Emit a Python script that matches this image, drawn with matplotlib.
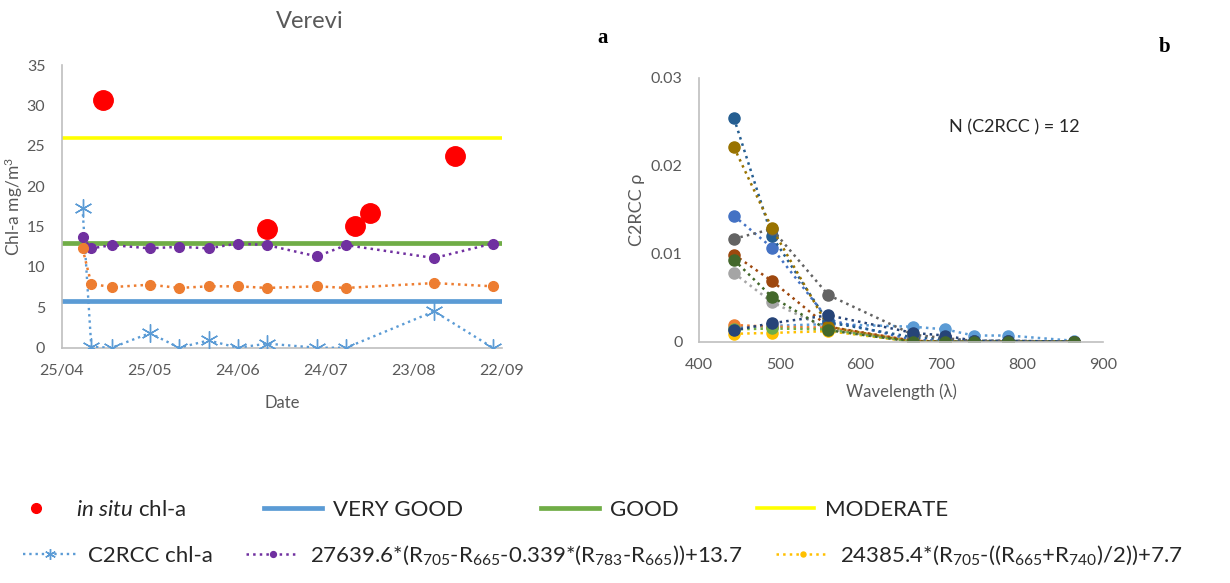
import matplotlib
matplotlib.use('Agg')
import matplotlib.pyplot as plt
import matplotlib.dates as mdates
from matplotlib.lines import Line2D
import pandas as pd

plt.rcParams['font.family'] = ['Lato', 'DejaVu Sans']
plt.rcParams['mathtext.fontset'] = 'custom'
plt.rcParams['mathtext.rm'] = 'Lato'
plt.rcParams['mathtext.it'] = 'Lato:italic'
plt.rcParams['mathtext.default'] = 'regular'

# --- panel a: chl-a time series (Verevi) ---
sat_dates = pd.to_datetime(['2018-05-02', '2018-05-05', '2018-05-12', '2018-05-25',
                            '2018-06-04', '2018-06-14', '2018-06-24', '2018-07-04',
                            '2018-07-21', '2018-07-31', '2018-08-30', '2018-09-19'])
c2rcc_chl = [17.3, 0.1, 0.0, 1.8, 0.0, 0.9, 0.0, 0.5, 0.0, 0.0, 4.5, 0.0]
algo1_chl = [13.7, 12.3, 12.7, 12.3, 12.5, 12.3, 12.9, 12.7, 11.3, 12.7, 11.1, 12.9]
algo2_chl = [12.3, 7.9, 7.5, 7.8, 7.4, 7.6, 7.6, 7.4, 7.6, 7.4, 8.0, 7.6]

insitu_dates = pd.to_datetime(['2018-05-09', '2018-07-04', '2018-08-03', '2018-08-08', '2018-09-06'])
insitu_chl = [30.7, 14.7, 15.1, 16.7, 23.7]

class_names = ['VERY GOOD', 'GOOD', 'MODERATE']
class_limits = [5.8, 13.0, 26.0]
class_colors = ['#5B9BD5', '#70AD47', '#FFFF00']
class_widths = [3.4, 3.4, 2.6]

date_ticks = pd.to_datetime(['2018-04-25', '2018-05-25', '2018-06-24',
                             '2018-07-24', '2018-08-23', '2018-09-22'])

# --- panel b: C2RCC reflectance spectra ---
wavelengths = [443, 490, 560, 665, 705, 740, 783, 865]
rho_0502 = [0.0016, 0.0018, 0.0020, 0.0017, 0.0014, 0.0007, 0.0007, 0.0001]
rho_0505 = [0.0019, 0.0017, 0.0016, 0.0001, 0.0001, 0.0000, 0.0000, 0.0000]
rho_0512 = [0.0078, 0.0045, 0.0014, 0.0000, 0.0000, 0.0000, 0.0000, 0.0000]
rho_0525 = [0.0009, 0.0010, 0.0012, 0.0000, 0.0000, 0.0000, 0.0000, 0.0000]
rho_0604 = [0.0143, 0.0107, 0.0025, 0.0002, 0.0001, 0.0000, 0.0000, 0.0000]
rho_0614 = [0.0014, 0.0015, 0.0014, 0.0000, 0.0000, 0.0000, 0.0000, 0.0000]
rho_0624 = [0.0254, 0.0120, 0.0022, 0.0005, 0.0003, 0.0001, 0.0001, 0.0000]
rho_0704 = [0.0099, 0.0069, 0.0017, 0.0001, 0.0000, 0.0000, 0.0000, 0.0000]
rho_0721 = [0.0117, 0.0128, 0.0053, 0.0008, 0.0004, 0.0001, 0.0001, 0.0000]
rho_0731 = [0.0221, 0.0129, 0.0017, 0.0000, 0.0000, 0.0000, 0.0000, 0.0000]
rho_0830 = [0.0013, 0.0021, 0.0030, 0.0010, 0.0007, 0.0001, 0.0001, 0.0000]
rho_0919 = [0.0093, 0.0051, 0.0013, 0.0000, 0.0000, 0.0000, 0.0000, 0.0000]
spectra = [rho_0502, rho_0505, rho_0512, rho_0525, rho_0604, rho_0614,
           rho_0624, rho_0704, rho_0721, rho_0731, rho_0830, rho_0919]
spec_colors = ['#5B9BD5', '#ED7D31', '#A5A5A5', '#FFC000', '#4472C4', '#70AD47',
               '#255E91', '#9E480E', '#636363', '#997300', '#264478', '#43682B']

grey = '#595959'
spine_c = '#BFBFBF'

fig = plt.figure(figsize=(12.3, 5.83), dpi=100)
ax1 = fig.add_axes([0.0504, 0.4036, 0.3574, 0.4849])
ax2 = fig.add_axes([0.5685, 0.4139, 0.3280, 0.4528])

# panel a
h_insitu, = ax1.plot(insitu_dates, insitu_chl, 'o', color='#FF0000', markersize=14,
                     linestyle='none', label=r'$\it{in\ situ}$ chl-a', zorder=5)
h_cls = []
for name, lim, col, lw in zip(class_names, class_limits, class_colors, class_widths):
    h_cls.append(ax1.axhline(lim, color=col, linewidth=lw, label=name, zorder=1))
h_c2 = ax1.plot(sat_dates, c2rcc_chl, linestyle=':', color='#5B9BD5', linewidth=1.7,
                marker=(6, 2, 0), markersize=13, markeredgewidth=1.0,
                label='C2RCC chl-a', zorder=3)[0]
h_a1 = ax1.plot(sat_dates, algo1_chl, linestyle=':', color='#7030A0', linewidth=1.8,
                marker='o', markersize=7,
                label='27639.6*(R$_{705}$-R$_{665}$-0.339*(R$_{783}$-R$_{665}$))+13.7',
                zorder=4)[0]
ax1.plot(sat_dates, algo2_chl, linestyle=':', color='#ED7D31', linewidth=1.8,
         marker='o', markersize=7, zorder=4)
h_a2 = Line2D([], [], linestyle=':', color='#FFC000', linewidth=1.8, marker='o',
              markersize=6, label='24385.4*(R$_{705}$-((R$_{665}$+R$_{740}$)/2))+7.7')

ax1.set_ylim(0, 35)
ax1.set_yticks(range(0, 36, 5))
ax1.set_xlim(date_ticks[0], date_ticks[-1])
ax1.set_xticks(date_ticks)
ax1.xaxis.set_major_formatter(mdates.DateFormatter('%d/%m'))
ax1.set_xlabel('Date', fontsize=12, color=grey, labelpad=12)
ax1.set_ylabel('Chl-a mg/m$^3$', fontsize=12.5, color=grey)
ax1.yaxis.set_label_coords(-0.085, 0.5)

# panel b
for rho, col in zip(spectra, spec_colors):
    ax2.plot(wavelengths, rho, linestyle=':', color=col, linewidth=1.8,
             marker='o', markersize=8)
ax2.set_xlim(400, 900)
ax2.set_xticks(range(400, 901, 100))
ax2.set_ylim(0, 0.03)
ax2.set_yticks([0, 0.01, 0.02, 0.03])
ax2.set_yticklabels(['0', '0.01', '0.02', '0.03'])
ax2.set_xlabel('Wavelength (λ)', fontsize=12, color=grey, labelpad=8)
ax2.set_ylabel('C2RCC ρ', fontsize=13, color=grey)
ax2.yaxis.set_label_coords(-0.134, 0.5)
ax2.text(0.62, 0.81, 'N (C2RCC ) = 12', transform=ax2.transAxes, fontsize=13,
         color='#262626', va='center')

for ax in (ax1, ax2):
    for s in ('top', 'right'):
        ax.spines[s].set_visible(False)
    for s in ('left', 'bottom'):
        ax.spines[s].set_color(spine_c)
        ax.spines[s].set_linewidth(1.2)
    ax.tick_params(length=0, labelsize=11.5, labelcolor=grey, pad=12)

fig.text(310 / 1230, 1 - 22 / 583, 'Verevi', fontsize=17, color=grey,
         ha='center', va='center')
fig.text(603 / 1230, 1 - 38 / 583, 'a', fontsize=15, fontweight='bold',
         family='Liberation Serif', ha='center', va='center')
fig.text(1165 / 1230, 1 - 47 / 583, 'b', fontsize=15, fontweight='bold',
         family='Liberation Serif', ha='center', va='center')

leg1 = fig.legend(handles=[h_insitu] + h_cls, loc='center left',
                  bbox_to_anchor=(0.006, 0.125), ncol=4, frameon=False,
                  fontsize=16, handlelength=2.6, handletextpad=0.5,
                  columnspacing=3.5, markerscale=0.5, borderpad=0, borderaxespad=0)
leg2 = fig.legend(handles=[h_c2, h_a1, h_a2], loc='center left',
                  bbox_to_anchor=(0.019, 0.048), ncol=3, frameon=False,
                  fontsize=16, handlelength=2.4, handletextpad=0.5,
                  columnspacing=1.5, markerscale=0.6, borderpad=0, borderaxespad=0)
for leg in (leg1, leg2):
    for t in leg.get_texts():
        t.set_color('#262626')

fig.savefig('out.png', dpi=100)
